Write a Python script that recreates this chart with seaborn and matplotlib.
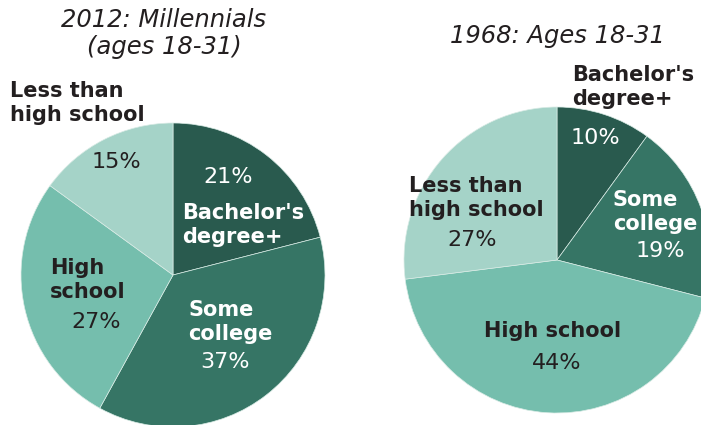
import matplotlib
matplotlib.use("Agg")
import matplotlib.pyplot as plt
import seaborn as sns

sns.set_theme(style="white")
plt.rcParams['font.family'] = ['DejaVu Sans']

categories = ["Bachelor's degree+", "Some college", "High school", "Less than high school"]
values_2012 = [21, 37, 27, 15]
values_1968 = [10, 19, 44, 27]
title_2012 = "2012: Millennials\n(ages 18-31)"
title_1968 = "1968: Ages 18-31"

colors = ["#295a4e", "#367565", "#75bead", "#a5d3c8"]
DARK = "#231f20"

W, H = 701, 425
fig = plt.figure(figsize=(W / 100, H / 100), dpi=100)
ax = fig.add_axes([0, 0, 1, 1])
ax.set_xlim(0, W)
ax.set_ylim(0, H)
ax.set_aspect('equal')
ax.axis('off')

def Y(y):
    return H - y

wp = dict(edgecolor="#d8ebe5", linewidth=0.5)
ax.pie(values_2012, colors=colors, startangle=90, counterclock=False,
       center=(173, Y(275)), radius=152, wedgeprops=wp, frame=True)
ax.pie(values_1968, colors=colors, startangle=90, counterclock=False,
       center=(557, Y(260)), radius=153, wedgeprops=wp, frame=True)
ax.set_xlim(0, W)
ax.set_ylim(0, H)
ax.axis('off')

tkw = dict(style='italic', fontsize=17.5, color=DARK, ha='center', va='center')
ax.text(164, Y(20), "2012: Millennials", **tkw)
ax.text(164, Y(47), "(ages 18-31)", **tkw)
ax.text(557, Y(36), title_1968, **tkw)

bkw = dict(fontsize=15, fontweight='bold', va='center', linespacing=1.2)
pkw = dict(fontsize=16, va='center', ha='center')

# 2012 pie
ax.text(10, Y(103), "Less than\nhigh school", color=DARK, ha='left', **bkw)
ax.text(116, Y(162), f"{values_2012[3]}%", color=DARK, **pkw)
ax.text(228, Y(177), f"{values_2012[0]}%", color="white", **pkw)
ax.text(182, Y(225), "Bachelor's\ndegree+", color="white", ha='left', **bkw)
ax.text(50, Y(280), "High\nschool", color=DARK, ha='left', **bkw)
ax.text(96, Y(322), f"{values_2012[2]}%", color=DARK, **pkw)
ax.text(188, Y(322), "Some\ncollege", color="white", ha='left', **bkw)
ax.text(225, Y(362), f"{values_2012[1]}%", color="white", **pkw)

# 1968 pie
ax.text(572, Y(87), "Bachelor's\ndegree+", color=DARK, ha='left', **bkw)
ax.text(595, Y(138), f"{values_1968[0]}%", color="white", **pkw)
ax.text(613, Y(212), "Some\ncollege", color="white", ha='left', **bkw)
ax.text(660, Y(251), f"{values_1968[1]}%", color="white", **pkw)
ax.text(409, Y(198), "Less than\nhigh school", color=DARK, ha='left', **bkw)
ax.text(472, Y(240), f"{values_1968[3]}%", color=DARK, **pkw)
ax.text(553, Y(331), "High school", color=DARK, ha='center', **bkw)
ax.text(557, Y(363), f"{values_1968[2]}%", color=DARK, **pkw)

fig.savefig("out.png", dpi=100)
